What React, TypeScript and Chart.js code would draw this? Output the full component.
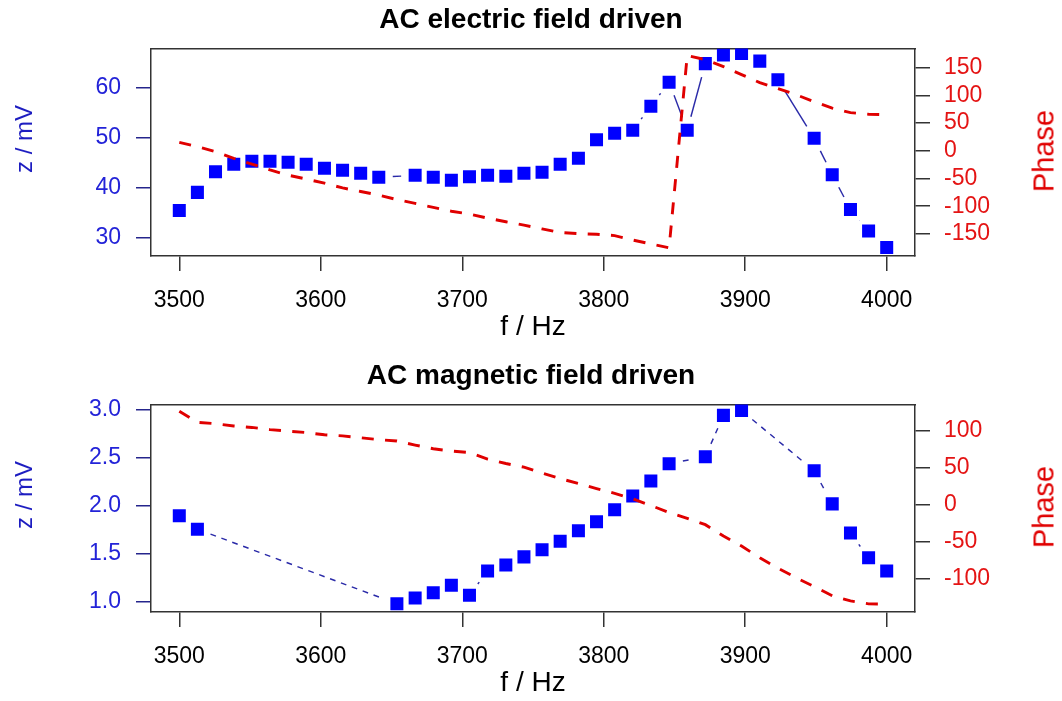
import React, { useEffect, useRef } from "react";
import { Chart, registerables } from "chart.js";

Chart.register(...registerables);

// ---------- data ----------
const FREQ = [
  3500, 3512.8, 3525.6, 3538.5, 3551.3, 3564.1, 3576.9, 3589.7, 3602.6, 3615.4,
  3628.2, 3641, 3653.8, 3666.7, 3679.5, 3692.3, 3705.1, 3717.9, 3730.8, 3743.6,
  3756.4, 3769.2, 3782.1, 3794.9, 3807.7, 3820.5, 3833.3, 3846.2, 3859, 3871.8,
  3884.6, 3897.4, 3910.3, 3923.1, 3935.9, 3948.7, 3961.5, 3974.4, 3987.2, 4000,
];

const ELECTRIC_Z = [
  35.5, 39.1, 43.2, 44.7, 45.3, 45.3, 45.1, 44.7, 43.9, 43.5,
  42.9, 42.1, null, 42.5, 42.1, 41.5, 42.2, 42.5, 42.3, 42.9,
  43.1, 44.7, 45.9, 49.6, 50.9, 51.5, 56.3, 61.1, 51.5, 64.8,
  66.5, 66.8, 65.3, 61.6, null, 49.9, 42.6, 35.7, 31.4, 28.1,
];

const ELECTRIC_PHASE = [
  15, 7.5, -1.5, -13.5, -24, -34.5, -44, -51, -58.5, -67,
  -73.5, -80, -88, -95, -102, -109, -114, -121.5, -128, -134,
  -141, -147.5, -149.5, -150.5, -153, -161, -168, -175, 171.7, 164.5,
  151.8, 137.4, 122.9, 112, 101.2, 88.6, 76.8, 68.7, 66, 65.1,
];

const MAGNETIC_Z = [
  1.896, 1.757, null, null, null, null, null, null, null, null,
  null, null, 0.982, 1.042, 1.097, 1.174, 1.07, 1.323, 1.385, 1.469,
  1.542, 1.632, 1.74, 1.833, 1.958, 2.101, 2.257, 2.438, null, 2.51,
  2.94, 2.99, null, null, null, 2.365, 2.02, 1.716, 1.46, 1.323,
];

const MAGNETIC_PHASE = [
  127, 112, 110, 107, 105, 102, 100, 98, 95, 93.5,
  91, 88.5, 86.5, 81, 76, 73, 71, 62, 56, 51,
  43, 35.5, 29, 22, 15.5, 8, -1, -10.5, -18.5, -27,
  -42.5, -56, -72, -86, -99, -111, -123.5, -130.5, -134.5, -135,
];

const X_TICKS = [3500, 3600, 3700, 3800, 3900, 4000];
const ELECTRIC_Z_TICKS = [30, 40, 50, 60];
const ELECTRIC_PHASE_TICKS = [-150, -100, -50, 0, 50, 100, 150];
const MAGNETIC_Z_TICKS = [1.0, 1.5, 2.0, 2.5, 3.0];
const MAGNETIC_PHASE_TICKS = [-100, -50, 0, 50, 100];

// ---------- layout / style ----------
const FONT = "'Liberation Sans', Arial, Helvetica, sans-serif";
const W = 1062;
const H = 345;
const LEFT = 151;
const RIGHT = 915;
const BOTTOM = 256;
const GAP = 14;
const DASH = 5.8;
const BOX = "#333333";

Chart.defaults.font.family = FONT;

function gapDash(dashed: boolean) {
  return (ctx: any) => {
    const L = Math.hypot(ctx.p1.x - ctx.p0.x, ctx.p1.y - ctx.p0.y);
    if (L <= 2 * GAP) return [0, L + 1000];
    const rem0 = L - 2 * GAP;
    const arr: number[] = [0, GAP];
    if (!dashed) {
      arr.push(rem0, 10000);
      return arr;
    }
    let rem = rem0;
    while (rem > 0) {
      arr.push(Math.min(DASH, rem), DASH);
      rem -= 2 * DASH;
    }
    arr[arr.length - 1] = 10000;
    return arr;
  };
}

type PanelProps = {
  top: number;
  title: string;
  z: (number | null)[];
  phase: number[];
  zTicks: number[];
  phaseTicks: number[];
  zMin: number;
  zMax: number;
  pMin: number;
  pMax: number;
  zDecimals: number;
  dashed: boolean;
};

function Panel(props: PanelProps) {
  const ref = useRef<HTMLCanvasElement | null>(null);
  useEffect(() => {
    if (!ref.current) return;
    const zPts = FREQ.map((f, i) => ({ x: f, y: props.z[i] })).filter((p) => p.y !== null);
    const pPts = FREQ.map((f, i) => ({ x: f, y: props.phase[i] }));
    const tickGrid = (color: string) => ({
      display: true,
      drawOnChartArea: false,
      drawTicks: true,
      tickLength: 15,
      color,
      lineWidth: 1.5,
    });
    const chart = new Chart(ref.current, {
      type: "line",
      data: {
        datasets: [
          {
            label: "Phase",
            data: pPts as any,
            xAxisID: "x",
            yAxisID: "y1",
            borderColor: "#e00000",
            borderWidth: 2.9,
            borderDash: [12, 11.3],
            pointRadius: 0,
            pointHoverRadius: 0,
            tension: 0,
            fill: false,
          },
          {
            label: "z",
            data: zPts as any,
            xAxisID: "x",
            yAxisID: "y",
            borderColor: "#2a2aa8",
            borderWidth: 1.45,
            pointStyle: "rect",
            pointRadius: 9.2,
            pointHoverRadius: 9.2,
            pointBackgroundColor: "#0000ff",
            pointBorderColor: "#0000ff",
            pointBorderWidth: 0,
            tension: 0,
            fill: false,
            segment: { borderDash: gapDash(props.dashed) as any },
          },
        ],
      },
      options: {
        animation: false,
        responsive: false,
        events: [],
        layout: { padding: 0 },
        plugins: {
          legend: { display: false },
          tooltip: { enabled: false },
          title: {
            display: true,
            text: props.title,
            color: "#000",
            font: { size: 28, weight: "bold", family: FONT, lineHeight: 1.2 },
            padding: { top: 3, bottom: 12 },
          },
        },
        scales: {
          x: {
            type: "linear",
            position: "bottom",
            min: 3480,
            max: 4020,
            afterBuildTicks: (s: any) => {
              s.ticks = X_TICKS.map((v) => ({ value: v }));
            },
            afterFit: (s: any) => {
              s.height = H - BOTTOM;
            },
            ticks: {
              color: "#000",
              font: { size: 23 },
              padding: 16,
              autoSkip: false,
              maxRotation: 0,
              callback: (v: any) => String(v),
            },
            grid: tickGrid(BOX) as any,
            border: { display: true, color: BOX, width: 1.5 },
            title: {
              display: true,
              text: "f / Hz",
              color: "#000",
              font: { size: 28 },
              padding: { top: 0, bottom: 1 },
            },
          },
          x2: {
            type: "linear",
            position: "top",
            min: 3480,
            max: 4020,
            display: true,
            afterFit: (s: any) => {
              s.height = 0;
            },
            ticks: { display: false },
            grid: { display: false, drawTicks: false },
            border: { display: true, color: BOX, width: 1.5 },
          },
          y: {
            type: "linear",
            position: "left",
            min: props.zMin,
            max: props.zMax,
            afterBuildTicks: (s: any) => {
              s.ticks = props.zTicks.map((v) => ({ value: v }));
            },
            afterFit: (s: any) => {
              s.width = LEFT;
            },
            ticks: {
              color: "#2323d8",
              font: { size: 23 },
              padding: 15,
              callback: (v: any) => Number(v).toFixed(props.zDecimals),
            },
            grid: tickGrid("#25258c") as any,
            border: { display: true, color: BOX, width: 1.5 },
          },
          y1: {
            type: "linear",
            position: "right",
            min: props.pMin,
            max: props.pMax,
            afterBuildTicks: (s: any) => {
              s.ticks = props.phaseTicks.map((v) => ({ value: v }));
            },
            afterFit: (s: any) => {
              s.width = W - RIGHT;
            },
            ticks: {
              color: "#e41414",
              font: { size: 23 },
              padding: 14,
              callback: (v: any) => String(v),
            },
            grid: tickGrid(BOX) as any,
            border: { display: true, color: BOX, width: 1.5 },
          },
        },
      } as any,
    });
    return () => chart.destroy();
  }, []);

  const rotated = {
    position: "absolute" as const,
    transform: "translate(-50%, -50%) rotate(-90deg)",
    whiteSpace: "nowrap" as const,
    lineHeight: 1,
  };

  return (
    <>
      <canvas
        ref={ref}
        width={W}
        height={H}
        style={{ position: "absolute", left: 0, top: props.top, display: "block" }}
      />
      <div
        style={{
          ...rotated,
          left: 24,
          top: props.top + 139,
          font: `24px ${FONT}`,
          color: "#1c1cc0",
        }}
      >
        z / mV
      </div>
      <div
        style={{
          ...rotated,
          left: 1044,
          top: props.top + 151,
          font: `29px ${FONT}`,
          color: "#e00000",
        }}
      >
        Phase
      </div>
    </>
  );
}

export default function App() {
  return (
    <div
      style={{
        position: "absolute",
        left: 0,
        top: 0,
        width: W,
        height: 701,
        background: "#fff",
        overflow: "hidden",
      }}
    >
      <Panel
        top={0}
        title="AC electric field driven"
        z={ELECTRIC_Z}
        phase={ELECTRIC_PHASE}
        zTicks={ELECTRIC_Z_TICKS}
        phaseTicks={ELECTRIC_PHASE_TICKS}
        zMin={26.4}
        zMax={67.8}
        pMin={-189.8}
        pMax={184.3}
        zDecimals={0}
        dashed={false}
      />
      <Panel
        top={356}
        title="AC magnetic field driven"
        z={MAGNETIC_Z}
        phase={MAGNETIC_PHASE}
        zTicks={MAGNETIC_Z_TICKS}
        phaseTicks={MAGNETIC_PHASE_TICKS}
        zMin={0.896}
        zMax={3.052}
        pMin={-145.6}
        pMax={136}
        zDecimals={1}
        dashed={true}
      />
    </div>
  );
}
